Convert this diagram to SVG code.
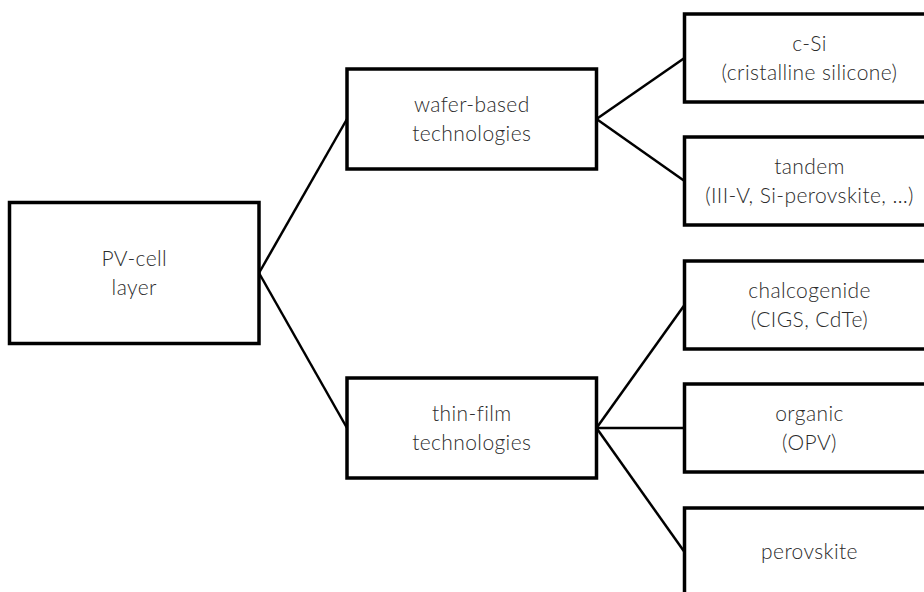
<svg xmlns="http://www.w3.org/2000/svg" width="924" height="592" viewBox="0 0 924 592">
  <style>
    .box { fill: #ffffff; stroke: #000000; stroke-width: 3.5; }
    .edge { stroke: #000000; stroke-width: 2.5; fill: none; stroke-linecap: butt; }
    .label { font-family: "Lato", "Noto Sans", "Liberation Sans", sans-serif; font-weight: 300; font-size: 21px; letter-spacing: 0.4px; fill: #2b2b2b; text-anchor: middle; }
  </style>
  <rect width="924" height="592" fill="#ffffff"/>

  <!-- connectors -->
  <g id="connectors">
    <line class="edge" x1="259" y1="273" x2="347" y2="119"/>
    <line class="edge" x1="259" y1="273" x2="347" y2="428"/>
    <line class="edge" x1="596.5" y1="119" x2="684.5" y2="58"/>
    <line class="edge" x1="596.5" y1="119" x2="684.5" y2="181"/>
    <line class="edge" x1="596.5" y1="428" x2="684.5" y2="305"/>
    <line class="edge" x1="596.5" y1="428" x2="684.5" y2="428"/>
    <line class="edge" x1="596.5" y1="428" x2="684.5" y2="552"/>
  </g>

  <!-- root -->
  <g id="pv-cell-layer">
    <rect class="box" x="9.5" y="202.5" width="249.5" height="141"/>
    <text class="label" x="134.25" y="265.5">PV-cell</text>
    <text class="label" x="134.25" y="294.5">layer</text>
  </g>

  <!-- technology families -->
  <g id="wafer-based">
    <rect class="box" x="347" y="69" width="249.5" height="100"/>
    <text class="label" x="471.75" y="111.5">wafer-based</text>
    <text class="label" x="471.75" y="140.5">technologies</text>
  </g>
  <g id="thin-film">
    <rect class="box" x="347" y="378" width="249.5" height="100"/>
    <text class="label" x="471.75" y="420.5">thin-film</text>
    <text class="label" x="471.75" y="449.5">technologies</text>
  </g>

  <!-- cell types -->
  <g id="c-si">
    <rect class="box" x="684.5" y="14" width="250" height="88"/>
    <text class="label" x="809.5" y="50.5">c-Si</text>
    <text class="label" x="809.5" y="79.5">(cristalline silicone)</text>
  </g>
  <g id="tandem">
    <rect class="box" x="684.5" y="137" width="250" height="88"/>
    <text class="label" x="809.5" y="173.5">tandem</text>
    <text class="label" x="809.5" y="202.5">(III-V, Si-perovskite, …)</text>
  </g>
  <g id="chalcogenide">
    <rect class="box" x="684.5" y="261" width="250" height="88"/>
    <text class="label" x="809.5" y="297.5">chalcogenide</text>
    <text class="label" x="809.5" y="326.5">(CIGS, CdTe)</text>
  </g>
  <g id="organic">
    <rect class="box" x="684.5" y="384" width="250" height="88"/>
    <text class="label" x="809.5" y="420.5">organic</text>
    <text class="label" x="809.5" y="449.5">(OPV)</text>
  </g>
  <g id="perovskite">
    <rect class="box" x="684.5" y="508" width="250" height="88"/>
    <text class="label" x="809.5" y="559">perovskite</text>
  </g>
</svg>
